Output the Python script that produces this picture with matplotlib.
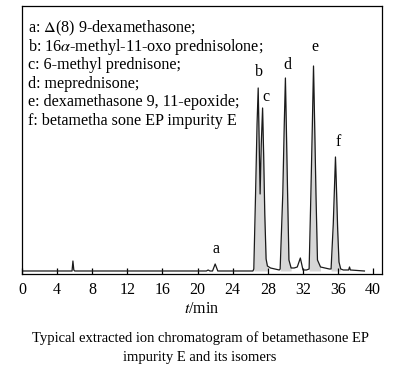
import numpy as np
import matplotlib.pyplot as plt

plt.rcParams["font.family"] = ["Liberation Serif", "DejaVu Serif"]
plt.rcParams["mathtext.fontset"] = "stix"

# chromatogram trace (time in min, intensity in arbitrary units)
t = [0.0, 5.7, 5.8, 5.9, 6.0, 21.0, 21.2, 21.4, 21.7, 22.0, 22.3, 26.3,
     26.4, 26.6, 26.77, 26.9, 27.12, 27.25, 27.4, 27.52, 27.65, 27.8, 27.95,
     28.3, 28.8, 29.3,
     29.4, 29.7, 29.87, 30.0, 30.1, 30.25, 30.4, 30.65,
     31.0, 31.35, 31.7, 32.0, 32.4,
     32.7, 32.9, 33.07, 33.2, 33.33, 33.48, 33.65, 34.0,
     34.5, 35.0,
     35.2, 35.45, 35.6, 35.7, 35.8, 35.95, 36.1, 36.3,
     36.6, 37.2, 37.3, 37.4, 39.0]
intensity = [3, 3, 13, 4, 3, 3, 4, 3, 3, 10, 3, 3,
             5, 80, 150, 186, 80, 130, 166, 120, 60, 15, 8,
             6, 5, 4,
             5, 80, 150, 196, 150, 80, 14, 6,
             6, 7, 16, 4, 4,
             5, 80, 150, 208, 150, 80, 14, 7,
             6, 5,
             5, 50, 90, 117, 90, 45, 12, 5,
             4, 4, 7, 4, 3]

# shaded peak windows (start, end) in min
fill_windows = [(26.4, 27.95), (29.4, 30.65), (32.7, 34.0), (35.2, 36.3)]

peak_labels = ["a", "b", "c", "d", "e", "f"]
peak_label_t = [22.1, 27.0, 27.8, 30.2, 33.4, 36.0]
peak_label_y = [25, 202, 177, 209, 227, 132]

legend_lines = [
    r"a: $\Delta$(8) 9-dexamethasone;",
    r"b: 16$\alpha$-methyl-11-oxo prednisolone;",
    "c: 6-methyl prednisone;",
    "d: meprednisone;",
    "e: dexamethasone 9, 11-epoxide;",
    "f: betametha sone EP impurity E",
]

fig = plt.figure(figsize=(4.0, 3.74), dpi=100)
ax = fig.add_axes([0.055, 0.2674, 0.9, 0.7166])

t_arr = np.array(t)
y_arr = np.array(intensity, dtype=float)
for t0, t1 in fill_windows:
    m = (t_arr >= t0) & (t_arr <= t1)
    ax.fill_between(t_arr[m], 3, y_arr[m], color="#d6d6d6", lw=0)
ax.plot(t, intensity, color="#1a1a1a", lw=0.9)

for lab, lx, ly in zip(peak_labels, peak_label_t, peak_label_y):
    ax.text(lx, ly, lab, ha="center", va="center", fontsize=11.5)

for i, line in enumerate(legend_lines):
    ax.text(0.016, 0.918 - i * 0.0694, line, transform=ax.transAxes,
            ha="left", va="center", fontsize=11.6)

ax.set_xlim(0, 41)
ax.set_ylim(0, 268)
ax.set_xticks(np.arange(0, 41, 4))
ax.set_yticks([])
ax.tick_params(axis="x", direction="in", length=4, width=0.9, labelsize=11.5, pad=6)
for s in ax.spines.values():
    s.set_linewidth(0.9)
ax.set_xlabel(r"$\it{t}$/min", fontsize=11.5, labelpad=2)

fig.text(0.5, 0.095, "Typical extracted ion chromatogram of betamethasone EP",
         ha="center", va="center", fontsize=10.5)
fig.text(0.5, 0.045, "impurity E and its isomers", ha="center", va="center", fontsize=10.5)

fig.savefig("out.png", dpi=100)
